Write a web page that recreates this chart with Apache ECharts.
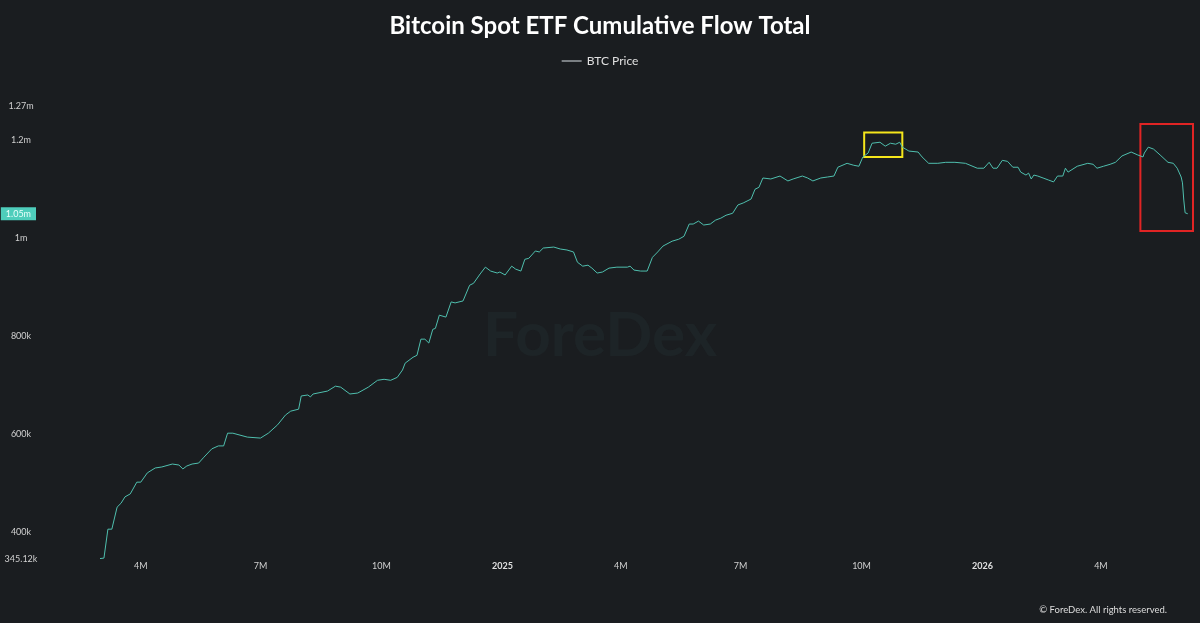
<!DOCTYPE html>
<html>
<head>
<meta charset="utf-8">
<title>Bitcoin Spot ETF Cumulative Flow Total</title>
<script src="https://cdn.jsdelivr.net/npm/echarts@6/dist/echarts.min.js"></script>
<style>
    html, body { margin: 0; padding: 0; background: #1a1d20; }
    #chart { width: 1200px; height: 623px; }
</style>
</head>
<body>
<div id="chart"></div>
<script>
// dates and cumulative flow (in thousands)
const dates = [
    '2024-03-01', '2024-03-04', '2024-03-07', '2024-03-10', '2024-03-14', '2024-03-17', '2024-03-20', '2024-03-24',
    '2024-03-29', '2024-04-01', '2024-04-06', '2024-04-12', '2024-04-17', '2024-04-25', '2024-04-30', '2024-05-03',
    '2024-05-06', '2024-05-10', '2024-05-15', '2024-05-19', '2024-05-25', '2024-05-30', '2024-06-03', '2024-06-06',
    '2024-06-10', '2024-06-21', '2024-07-01', '2024-07-07', '2024-07-14', '2024-07-20', '2024-07-24', '2024-07-30',
    '2024-08-01', '2024-08-06', '2024-08-08', '2024-08-10', '2024-08-21', '2024-08-27', '2024-08-31', '2024-09-07',
    '2024-09-13', '2024-09-21', '2024-09-28', '2024-10-03', '2024-10-08', '2024-10-13', '2024-10-17', '2024-10-19',
    '2024-10-25', '2024-10-28', '2024-10-31', '2024-11-03', '2024-11-06', '2024-11-09', '2024-11-11', '2024-11-14',
    '2024-11-19', '2024-11-23', '2024-11-26', '2024-12-02', '2024-12-07', '2024-12-10', '2024-12-15', '2024-12-19',
    '2024-12-23', '2024-12-28', '2024-12-30', '2025-01-03', '2025-01-08', '2025-01-11', '2025-01-15', '2025-01-18',
    '2025-01-21', '2025-01-26', '2025-01-29', '2025-02-01', '2025-02-09', '2025-02-14', '2025-02-19', '2025-02-24',
    '2025-02-27', '2025-03-03', '2025-03-07', '2025-03-10', '2025-03-14', '2025-03-18', '2025-03-23', '2025-03-29',
    '2025-04-06', '2025-04-08', '2025-04-11', '2025-04-16', '2025-04-21', '2025-04-25', '2025-04-29', '2025-05-03',
    '2025-05-10', '2025-05-15', '2025-05-19', '2025-05-23', '2025-05-26', '2025-05-30', '2025-06-03', '2025-06-08',
    '2025-06-12', '2025-06-16', '2025-06-20', '2025-06-25', '2025-06-29', '2025-07-03', '2025-07-09', '2025-07-12',
    '2025-07-15', '2025-07-18', '2025-07-24', '2025-07-31', '2025-08-06', '2025-08-10', '2025-08-17', '2025-08-21',
    '2025-08-25', '2025-08-31', '2025-09-05', '2025-09-10', '2025-09-13', '2025-09-20', '2025-09-25', '2025-09-29',
    '2025-10-02', '2025-10-06', '2025-10-09', '2025-10-15', '2025-10-19', '2025-10-23', '2025-10-27', '2025-10-30',
    '2025-11-01', '2025-11-06', '2025-11-13', '2025-11-16', '2025-11-21', '2025-11-28', '2025-12-04', '2025-12-11',
    '2025-12-19', '2025-12-28', '2026-01-02', '2026-01-06', '2026-01-09', '2026-01-12', '2026-01-16', '2026-01-20',
    '2026-01-24', '2026-01-28', '2026-01-30', '2026-02-03', '2026-02-05', '2026-02-07', '2026-02-09', '2026-02-12',
    '2026-02-16', '2026-02-20', '2026-02-24', '2026-02-27', '2026-03-03', '2026-03-05', '2026-03-07', '2026-03-14',
    '2026-03-22', '2026-03-26', '2026-03-29', '2026-04-03', '2026-04-08', '2026-04-12', '2026-04-17', '2026-04-24',
    '2026-04-29', '2026-05-03', '2026-05-04', '2026-05-07', '2026-05-11', '2026-05-16', '2026-05-22', '2026-05-26',
    '2026-05-29', '2026-06-01', '2026-06-02', '2026-06-03', '2026-06-04', '2026-06-06'
];

const flows = [
    346, 347, 406, 406, 451, 459, 472, 478,
    502, 502, 521, 531, 533, 539, 537, 529,
    535, 539, 541, 553, 570, 576, 576, 602,
    602, 594, 592, 602, 619, 639, 647, 651,
    678, 680, 676, 682, 688, 698, 696, 682,
    684, 696, 710, 712, 710, 716, 731, 745,
    757, 761, 794, 794, 786, 814, 816, 843,
    839, 870, 868, 872, 904, 908, 927, 941,
    933, 929, 931, 925, 943, 937, 933, 957,
    959, 974, 972, 980, 982, 978, 976, 972,
    951, 943, 945, 939, 929, 931, 939, 941,
    941, 943, 935, 933, 933, 961, 972, 984,
    994, 998, 1004, 1029, 1029, 1035, 1027, 1029,
    1037, 1041, 1047, 1051, 1068, 1072, 1080, 1100,
    1104, 1123, 1121, 1127, 1117, 1121, 1127, 1123,
    1117, 1123, 1125, 1127, 1145, 1153, 1149, 1147,
    1166, 1174, 1194, 1196, 1188, 1194, 1192, 1196,
    1186, 1178, 1176, 1166, 1153, 1153, 1155, 1155,
    1153, 1143, 1143, 1155, 1143, 1143, 1159, 1157,
    1145, 1145, 1135, 1129, 1133, 1121, 1129, 1127,
    1123, 1119, 1115, 1127, 1127, 1143, 1135, 1147,
    1153, 1151, 1143, 1147, 1151, 1155, 1168, 1176,
    1170, 1166, 1174, 1186, 1182, 1170, 1155, 1153,
    1143, 1125, 1113, 1078, 1052, 1050
];

const yMin = 345.12;
const yMax = 1270;
const xMax = '2026-06-10';
const lastValue = 1050;

// annotation boxes: [fromDate, fromValue, toDate, toValue]
const yellowBox = ['2025-10-03', 1216, '2025-11-01', 1166];
const redBox = ['2026-05-01', 1233, '2026-06-10', 1015];

const fmtK = (v) => {
    if (v >= 1000) return +(v / 1000).toFixed(2) + 'm';
    return +v.toFixed(2) + 'k';
};

const chart = echarts.init(document.getElementById('chart'), null, { renderer: 'canvas' });

const seriesData = dates.map((d, i) => [d, flows[i]]);

const option = {
    backgroundColor: '#1a1d20',
    animation: false,
    title: {
        text: 'Bitcoin Spot ETF Cumulative Flow Total',
        left: 'center',
        top: 9,
        textStyle: {
            color: '#ffffff',
            fontSize: 24,
            fontWeight: 'bold',
            fontFamily: 'Lato'
        }
    },
    legend: {
        top: 50,
        left: 'center',
        itemWidth: 20,
        itemHeight: 2,
        icon: 'rect',
        itemStyle: { color: '#7a7f83' },
        textStyle: { color: '#e0e0e0', fontSize: 12, fontFamily: 'Lato' },
        data: ['BTC Price']
    },
    grid: {
        left: 100,
        right: 7,
        top: 106,
        bottom: 64
    },
    xAxis: {
        type: 'time',
        min: dates[0],
        max: xMax,
        splitNumber: 9,
        minInterval: 89 * 24 * 3600 * 1000,
        axisLine: { show: false },
        axisTick: { show: false },
        splitLine: { show: false },
        axisLabel: {
            color: '#d0d0d0',
            fontSize: 9,
            margin: 3,
            fontFamily: 'Lato',
            showMinLabel: false,
            showMaxLabel: false,
            formatter: (val) => {
                const d = new Date(val);
                const m = d.getMonth();
                if (m === 0) return '{y|' + d.getFullYear() + '}';
                return (m + 1) + 'M';
            },
            rich: {
                y: { fontWeight: 'bold', fontSize: 9, color: '#e0e0e0' }
            }
        }
    },
    yAxis: {
        type: 'value',
        min: yMin,
        max: yMax,
        splitNumber: 5,
        axisLine: { show: false },
        axisTick: { show: false },
        splitLine: { show: false },
        axisLabel: {
            color: '#d0d0d0',
            fontSize: 9,
            fontFamily: 'Lato',
            align: 'center',
            margin: 79,
            formatter: fmtK
        }
    },
    graphic: [
        {
            type: 'text',
            left: 'center',
            top: 305,
            silent: true,
            style: {
                text: 'ForeDex',
                fill: 'rgba(60, 90, 90, 0.12)',
                fontSize: 62,
                fontWeight: 'bold',
                fontFamily: 'Lato'
            }
        },
        {
            type: 'text',
            right: 33,
            top: 605,
            style: {
                text: '© ForeDex. All rights reserved.',
                fill: '#dddddd',
                fontSize: 9.5,
                fontFamily: 'Lato'
            }
        }
    ],
    series: [
        {
            name: 'BTC Price',
            type: 'line',
            data: seriesData,
            showSymbol: false,
            symbol: 'none',
            clip: false,
            itemStyle: { color: '#7a7f83' },
            lineStyle: { color: '#4fbfae', width: 1 },
            markLine: {
                silent: true,
                symbol: 'none',
                lineStyle: { width: 0, color: 'transparent', type: 'solid' },
                data: [{ yAxis: lastValue }],
                label: {
                    show: true,
                    position: 'start',
                    distance: 64,
                    formatter: fmtK(lastValue),
                    backgroundColor: '#4ecdbb',
                    color: '#e9fffb',
                    fontSize: 9,
                    fontFamily: 'Lato',
                    padding: [2, 5]
                }
            },
            markArea: {
                silent: true,
                itemStyle: { color: 'transparent', borderWidth: 2 },
                data: [
                    [
                        { xAxis: yellowBox[0], yAxis: yellowBox[1], itemStyle: { borderColor: '#f5e61b', color: 'transparent', borderWidth: 2 } },
                        { xAxis: yellowBox[2], yAxis: yellowBox[3] }
                    ],
                    [
                        { xAxis: redBox[0], yAxis: redBox[1], itemStyle: { borderColor: '#e02424', color: 'transparent', borderWidth: 2 } },
                        { xAxis: redBox[2], yAxis: redBox[3] }
                    ]
                ]
            }
        }
    ]
};

chart.setOption(option);
window.addEventListener('resize', chart.resize);
</script>
</body>
</html>
